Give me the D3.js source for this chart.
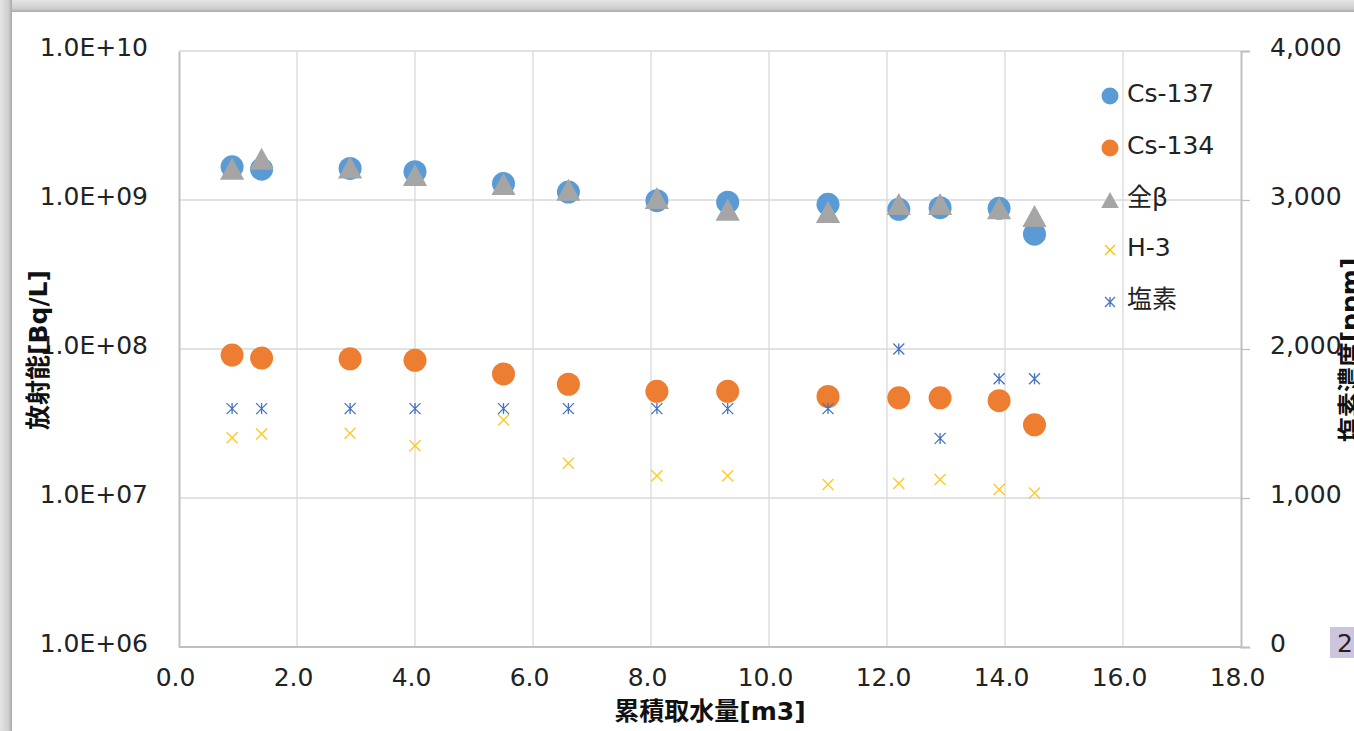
<!DOCTYPE html>
<html><head><meta charset="utf-8">
<script src="https://cdn.jsdelivr.net/npm/d3@7"></script>
<style>
html,body{margin:0;padding:0;background:#fff;}
svg{display:block;}
</style></head>
<body><svg id="c" width="1354" height="731"></svg>
<script>
// ---- data ----
const waterVolume = [0.9, 1.4, 2.9, 4.0, 5.5, 6.6, 8.1, 9.3, 11.0, 12.2, 12.9, 13.9, 14.5];
const cs137 = [1.67e9, 1.61e9, 1.63e9, 1.55e9, 1.29e9, 1.13e9, 0.99e9, 0.966e9, 0.935e9, 0.866e9, 0.888e9, 0.88e9, 0.59e9];
const cs134 = [9.1e7, 8.7e7, 8.6e7, 8.4e7, 6.8e7, 5.8e7, 5.2e7, 5.2e7, 4.8e7, 4.7e7, 4.7e7, 4.5e7, 3.1e7];
const allBeta = [1.62e9, 1.89e9, 1.65e9, 1.47e9, 1.28e9, 1.17e9, 1.03e9, 0.86e9, 0.83e9, 0.94e9, 0.94e9, 0.88e9, 0.78e9];
const h3 = [2.54e7, 2.69e7, 2.72e7, 2.24e7, 3.34e7, 1.71e7, 1.41e7, 1.41e7, 1.23e7, 1.25e7, 1.33e7, 1.14e7, 1.08e7];
const chlorine = [1600, 1600, 1600, 1600, 1600, 1600, 1600, 1600, 1600, 2000, 1400, 1800, 1800];

const seriesNames = ["Cs-137", "Cs-134", "全β", "H-3", "塩素"];
const xTickValues = [0, 2, 4, 6, 8, 10, 12, 14, 16, 18];
const xTickLabels = ["0.0", "2.0", "4.0", "6.0", "8.0", "10.0", "12.0", "14.0", "16.0", "18.0"];
const yTickValues = [1e6, 1e7, 1e8, 1e9, 1e10];
const yTickLabels = ["1.0E+06", "1.0E+07", "1.0E+08", "1.0E+09", "1.0E+10"];
const y2TickValues = [0, 1000, 2000, 3000, 4000];
const y2TickLabels = ["0", "1,000", "2,000", "3,000", "4,000"];
const xTitle = "累積取水量[m3]";
const yTitle = "放射能[Bq/L]";
const y2Title = "塩素濃度[ppm]";
const pageNumber = "2";

// ---- layout ----
const svg = d3.select("#c");
const FONT = "'DejaVu Sans','Noto Sans CJK JP',sans-serif";
const L = 179, R = 1241, T = 51, B = 647;

const x = d3.scaleLinear().domain([0, 18]).range([L, R]);
const y = d3.scaleLog().domain([1e6, 1e10]).range([B, T]);
const y2 = d3.scaleLinear().domain([0, 4000]).range([B, T]);

// frame (window shadow) at top and left
const defs = svg.append("defs");
const gT = defs.append("linearGradient").attr("id", "gT").attr("x1", 0).attr("y1", 0).attr("x2", 0).attr("y2", 1);
gT.append("stop").attr("offset", "0").attr("stop-color", "#e4e4e4");
gT.append("stop").attr("offset", "0.7").attr("stop-color", "#cfcfcf");
gT.append("stop").attr("offset", "1").attr("stop-color", "#a8a8a8");
const gL = defs.append("linearGradient").attr("id", "gL").attr("x1", 0).attr("y1", 0).attr("x2", 1).attr("y2", 0);
gL.append("stop").attr("offset", "0").attr("stop-color", "#e4e4e4");
gL.append("stop").attr("offset", "0.7").attr("stop-color", "#cfcfcf");
gL.append("stop").attr("offset", "1").attr("stop-color", "#a8a8a8");
svg.append("rect").attr("x", 0).attr("y", 0).attr("width", 1354).attr("height", 12).attr("fill", "url(#gT)");
svg.append("rect").attr("x", 0).attr("y", 0).attr("width", 12).attr("height", 731).attr("fill", "url(#gL)");

// gridlines
const grid = svg.append("g");
grid.selectAll("line.v").data(xTickValues.filter(v => v > 0 && v < 18)).join("line")
  .attr("x1", d => x(d)).attr("x2", d => x(d)).attr("y1", T).attr("y2", B)
  .attr("stroke", "#d9d9d9").attr("stroke-width", 1.3);
grid.selectAll("line.h").data(yTickValues.filter(v => v > 1e6)).join("line")
  .attr("x1", L).attr("x2", R).attr("y1", d => y(d)).attr("y2", d => y(d))
  .attr("stroke", "#d9d9d9").attr("stroke-width", 1.3);

// axes
const xAxis = svg.append("g").attr("transform", `translate(0,${B})`)
  .call(d3.axisBottom(x).tickValues(xTickValues).tickSize(0).tickPadding(20)
    .tickFormat((d, i) => xTickLabels[i]));
const yAxis = svg.append("g").attr("transform", `translate(${L},0)`)
  .call(d3.axisLeft(y).tickValues(yTickValues).tickSize(0).tickPadding(31)
    .tickFormat((d, i) => yTickLabels[i]));
const y2Axis = svg.append("g").attr("transform", `translate(${R},0)`)
  .call(d3.axisRight(y2).tickValues(y2TickValues).tickSize(9).tickPadding(20)
    .tickFormat((d, i) => y2TickLabels[i]));

[xAxis, yAxis, y2Axis].forEach(g => {
  g.selectAll(".domain").attr("stroke", "#bfbfbf").attr("stroke-width", 2);
  g.selectAll(".tick line").attr("stroke", "#bfbfbf").attr("stroke-width", 1.3);
  g.selectAll("text").attr("font-family", FONT).attr("font-size", 25).attr("fill", "#222");
});
xAxis.select(".domain").attr("d", `M${L},0H${R}`);
yAxis.selectAll("text").attr("dy", "0.32em").attr("y", -4);
y2Axis.selectAll("text").attr("dy", "0.32em").attr("y", -4);
xAxis.selectAll("text").attr("dx", -4).attr("dy", "0.71em").attr("y", 21);

// axis titles
svg.append("text").attr("x", (L + R) / 2).attr("y", 720).attr("text-anchor", "middle")
  .attr("font-family", FONT).attr("font-size", 25).attr("font-weight", "bold").attr("fill", "#111").text(xTitle);
svg.append("text").attr("transform", `translate(47,350) rotate(-90)`).attr("text-anchor", "middle")
  .attr("font-family", FONT).attr("font-size", 25).attr("font-weight", "bold").attr("fill", "#111").text(yTitle);
svg.append("text").attr("transform", `translate(1359,350) rotate(-90)`).attr("text-anchor", "middle")
  .attr("font-family", FONT).attr("font-size", 25).attr("font-weight", "bold").attr("fill", "#111").text(y2Title);

// marker shapes
const triPath = s => `M0,${-s / 2}L${s * 0.55},${s / 2}L${-s * 0.55},${s / 2}Z`;
const xPath = s => `M${-s / 2},${-s / 2}L${s / 2},${s / 2}M${-s / 2},${s / 2}L${s / 2},${-s / 2}`;
const starPath = s => xPath(s) + `M0,${-s / 2}L0,${s / 2}`;

const colors = ["#5B9BD5", "#ED7D31", "#A5A5A5", "#FFC000", "#4472C4"];
const pts = arr => waterVolume.map((v, i) => ({ x: v, y: arr[i] }));

const plot = svg.append("g");
plot.selectAll("circle.c137").data(pts(cs137)).join("circle")
  .attr("cx", d => x(d.x)).attr("cy", d => y(d.y)).attr("r", 11.5).attr("fill", colors[0]);
plot.selectAll("circle.c134").data(pts(cs134)).join("circle")
  .attr("cx", d => x(d.x)).attr("cy", d => y(d.y)).attr("r", 11.5).attr("fill", colors[1]);
plot.selectAll("path.beta").data(pts(allBeta)).join("path")
  .attr("transform", d => `translate(${x(d.x)},${y(d.y)})`).attr("d", triPath(22)).attr("fill", colors[2]);
plot.selectAll("path.h3").data(pts(h3)).join("path")
  .attr("transform", d => `translate(${x(d.x)},${y(d.y)})`).attr("d", xPath(11))
  .attr("fill", "none").attr("stroke", colors[3]).attr("stroke-width", 1.4).attr("opacity", 0.85);
plot.selectAll("path.cl").data(waterVolume.map((v, i) => ({ x: v, y: chlorine[i] }))).join("path")
  .attr("transform", d => `translate(${x(d.x)},${y2(d.y)})`).attr("d", starPath(11))
  .attr("fill", "none").attr("stroke", colors[4]).attr("stroke-width", 1.3);

// legend
const legY = [96, 148, 200, 250, 302];
const leg = svg.append("g");
seriesNames.forEach((name, i) => {
  const g = leg.append("g").attr("transform", `translate(1110,${legY[i]})`);
  if (i < 2) g.append("circle").attr("r", 8.5).attr("fill", colors[i]);
  else if (i === 2) g.append("path").attr("d", triPath(16)).attr("fill", colors[i]);
  else if (i === 3) g.append("path").attr("d", xPath(10)).attr("fill", "none").attr("stroke", colors[i]).attr("stroke-width", 1.4);
  else g.append("path").attr("d", starPath(10)).attr("fill", "none").attr("stroke", colors[i]).attr("stroke-width", 1.3);
  g.append("text").attr("x", 17).attr("y", 6).attr("font-family", FONT).attr("font-size", 25)
    .attr("fill", "#222").text(name);
});

// page number tag
svg.append("rect").attr("x", 1330).attr("y", 627).attr("width", 30).attr("height", 31).attr("fill", "#cdc5df");
svg.append("text").attr("x", 1337).attr("y", 652).attr("font-family", FONT).attr("font-size", 25)
  .attr("fill", "#222").text(pageNumber);
</script></body></html>
